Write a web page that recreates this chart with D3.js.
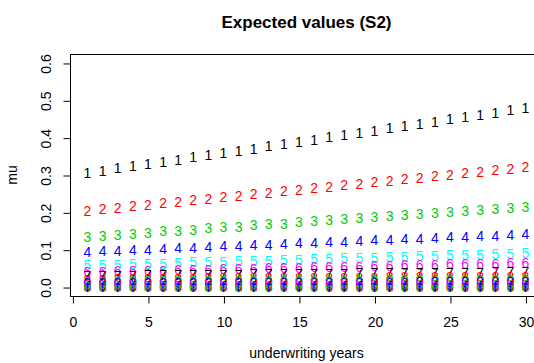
<!DOCTYPE html>
<html>
<head>
<meta charset="utf-8">
<script src="https://cdn.jsdelivr.net/npm/d3@7"></script>
<style>
  body { margin: 0; background: #fff; }
  svg { display: block; font-family: "Liberation Sans", Arial, sans-serif; }
</style>
</head>
<body>
<div id="chart"></div>
<script>
var years = [1, 2, 3, 4, 5, 6, 7, 8, 9, 10, 11, 12, 13, 14, 15, 16, 17, 18, 19, 20,
  21, 22, 23, 24, 25, 26, 27, 28, 29, 30];

var xTicks = [0, 5, 10, 15, 20, 25, 30];
var yTicks = [0.0, 0.1, 0.2, 0.3, 0.4, 0.5, 0.6];

// plotting characters and colours, R matplot defaults
var pchs = ["1", "2", "3", "4", "5", "6", "7", "8", "9", "0", "a", "b", "c", "d", "e", "f"];
var palette = ["#000000", "#FF0000", "#00CD00", "#0000FF", "#00FFFF", "#FF00FF"];

var mu1 = [0.306, 0.312, 0.318, 0.323, 0.329, 0.335, 0.341, 0.347, 0.353, 0.359, 0.365, 0.371, 0.377, 0.383, 0.389,
  0.395, 0.401, 0.407, 0.413, 0.419, 0.425, 0.431, 0.437, 0.443, 0.449, 0.455, 0.461, 0.467, 0.473, 0.479];
var mu2 = [0.205, 0.209, 0.213, 0.217, 0.221, 0.225, 0.229, 0.233, 0.237, 0.241, 0.245, 0.249, 0.253, 0.257, 0.261,
  0.265, 0.269, 0.273, 0.277, 0.281, 0.285, 0.289, 0.293, 0.297, 0.301, 0.305, 0.309, 0.313, 0.317, 0.321];
var mu3 = [0.135, 0.138, 0.140, 0.143, 0.146, 0.149, 0.151, 0.154, 0.157, 0.160, 0.162, 0.165, 0.168, 0.170, 0.173,
  0.176, 0.179, 0.181, 0.184, 0.187, 0.190, 0.192, 0.195, 0.198, 0.200, 0.203, 0.206, 0.209, 0.211, 0.214];
var mu4 = [0.094, 0.096, 0.097, 0.099, 0.100, 0.102, 0.104, 0.105, 0.107, 0.109, 0.110, 0.112, 0.113, 0.115, 0.117,
  0.118, 0.120, 0.122, 0.123, 0.125, 0.126, 0.128, 0.130, 0.131, 0.133, 0.135, 0.136, 0.138, 0.139, 0.141];
var mu5 = [0.058, 0.059, 0.060, 0.061, 0.062, 0.063, 0.065, 0.066, 0.067, 0.068, 0.069, 0.070, 0.071, 0.072, 0.073,
  0.075, 0.076, 0.077, 0.078, 0.079, 0.080, 0.081, 0.082, 0.083, 0.085, 0.086, 0.087, 0.088, 0.089, 0.090];
var mu6 = [0.040, 0.041, 0.042, 0.043, 0.043, 0.044, 0.045, 0.046, 0.047, 0.048, 0.049, 0.049, 0.050, 0.051, 0.052,
  0.053, 0.054, 0.055, 0.055, 0.056, 0.057, 0.058, 0.059, 0.060, 0.061, 0.062, 0.062, 0.063, 0.064, 0.065];
var mu7 = [0.029, 0.029, 0.030, 0.030, 0.031, 0.031, 0.031, 0.032, 0.032, 0.033, 0.033, 0.034, 0.034, 0.035, 0.035,
  0.035, 0.036, 0.036, 0.037, 0.037, 0.037, 0.038, 0.038, 0.038, 0.039, 0.039, 0.039, 0.040, 0.040, 0.040];
var mu8 = [0.020, 0.020, 0.021, 0.021, 0.021, 0.022, 0.022, 0.022, 0.023, 0.023, 0.023, 0.023, 0.024, 0.024, 0.024,
  0.024, 0.025, 0.025, 0.025, 0.025, 0.026, 0.026, 0.026, 0.026, 0.027, 0.027, 0.027, 0.027, 0.028, 0.028];
var mu9 = [0.014, 0.014, 0.014, 0.015, 0.015, 0.015, 0.015, 0.015, 0.016, 0.016, 0.016, 0.016, 0.016, 0.017, 0.017,
  0.017, 0.017, 0.017, 0.017, 0.018, 0.018, 0.018, 0.018, 0.018, 0.018, 0.019, 0.019, 0.019, 0.019, 0.019];
var mu10 = [0.010, 0.010, 0.010, 0.010, 0.010, 0.011, 0.011, 0.011, 0.011, 0.011, 0.011, 0.011, 0.011, 0.012, 0.012,
  0.012, 0.012, 0.012, 0.012, 0.012, 0.012, 0.012, 0.013, 0.013, 0.013, 0.013, 0.013, 0.013, 0.013, 0.013];
var mu11 = [0.006, 0.006, 0.006, 0.006, 0.006, 0.006, 0.006, 0.007, 0.007, 0.007, 0.007, 0.007, 0.007, 0.007, 0.007,
  0.007, 0.007, 0.007, 0.007, 0.008, 0.008, 0.008, 0.008, 0.008, 0.008, 0.008, 0.008, 0.008, 0.008, 0.008];
var mu12 = [0.004, 0.004, 0.004, 0.004, 0.004, 0.004, 0.004, 0.004, 0.004, 0.004, 0.004, 0.004, 0.005, 0.005, 0.005,
  0.005, 0.005, 0.005, 0.005, 0.005, 0.005, 0.005, 0.005, 0.005, 0.005, 0.005, 0.005, 0.005, 0.005, 0.005];
var mu13 = [0.003, 0.003, 0.003, 0.003, 0.003, 0.003, 0.003, 0.003, 0.003, 0.003, 0.003, 0.003, 0.003, 0.003, 0.003,
  0.003, 0.003, 0.003, 0.003, 0.003, 0.003, 0.003, 0.003, 0.003, 0.003, 0.003, 0.003, 0.003, 0.003, 0.003];
var mu14 = [0.002, 0.002, 0.002, 0.002, 0.002, 0.002, 0.002, 0.002, 0.002, 0.002, 0.002, 0.002, 0.002, 0.002, 0.002,
  0.002, 0.002, 0.002, 0.002, 0.002, 0.002, 0.002, 0.002, 0.002, 0.002, 0.002, 0.002, 0.002, 0.002, 0.002];
var mu15 = [0.001, 0.001, 0.001, 0.001, 0.001, 0.001, 0.001, 0.001, 0.001, 0.001, 0.001, 0.001, 0.001, 0.001, 0.001,
  0.001, 0.001, 0.001, 0.001, 0.001, 0.001, 0.001, 0.001, 0.001, 0.001, 0.001, 0.001, 0.001, 0.001, 0.001];
var mu16 = [0.0005, 0.0005, 0.0005, 0.0005, 0.0005, 0.0005, 0.0005, 0.0005, 0.0005, 0.0005, 0.0005, 0.0005, 0.0005, 0.0005, 0.0005,
  0.0005, 0.0005, 0.0005, 0.0005, 0.0005, 0.0005, 0.0005, 0.0005, 0.0005, 0.0005, 0.0005, 0.0005, 0.0005, 0.0005, 0.0005];

var series = [mu1, mu2, mu3, mu4, mu5, mu6, mu7, mu8, mu9, mu10, mu11, mu12, mu13, mu14, mu15, mu16];

var width = 534, height = 363;
// plot region (R's default 4% axis padding is added to the domains)
var plotLeft = 70, plotRight = 543, plotTop = 54, plotBottom = 296;

var x = d3.scaleLinear()
  .domain([1 - 0.04 * 29, 30 + 0.04 * 29])
  .range([plotLeft, plotRight]);

var y = d3.scaleLinear()
  .domain([0 - 0.04 * 0.6, 0.6 + 0.04 * 0.6])
  .range([plotBottom, plotTop]);

var svg = d3.select("#chart")
  .append("svg")
  .attr("width", width)
  .attr("height", height);

// points, drawn as plotting characters
series.forEach(function (vals, i) {
  svg.append("g")
    .selectAll("text")
    .data(vals)
    .enter()
    .append("text")
    .attr("x", function (d, j) { return x(years[j]); })
    .attr("y", function (d) { return y(d); })
    .attr("dy", "0.36em")
    .attr("text-anchor", "middle")
    .style("font-size", "14px")
    .attr("fill", palette[i % palette.length])
    .text(pchs[i]);
});

// box
svg.append("rect")
  .attr("x", plotLeft + 0.5)
  .attr("y", plotTop + 0.5)
  .attr("width", plotRight - plotLeft)
  .attr("height", plotBottom - plotTop)
  .attr("fill", "none")
  .attr("stroke", "#000");

// x axis
var xAxis = svg.append("g")
  .attr("transform", "translate(0.5," + (plotBottom + 0.5) + ")")
  .call(d3.axisBottom(x).tickValues(xTicks).tickSize(7).tickPadding(14).tickFormat(d3.format("d")));
xAxis.select(".domain").remove();
xAxis.selectAll("text")
  .style("font-size", "14px")
  .style("font-family", "Liberation Sans, Arial, sans-serif")
  .attr("fill", "#000");

// y axis with labels parallel to the axis
var yAxis = svg.append("g")
  .attr("transform", "translate(" + (plotLeft + 0.5) + ",0.5)")
  .call(d3.axisLeft(y).tickValues(yTicks).tickSize(7).tickFormat(d3.format(".1f")));
yAxis.select(".domain").remove();
yAxis.selectAll(".tick text")
  .attr("x", 0)
  .attr("y", 0)
  .attr("dy", null)
  .attr("text-anchor", "middle")
  .attr("transform", "translate(-20,0)rotate(-90)")
  .style("font-size", "14px")
  .style("font-family", "Liberation Sans, Arial, sans-serif")
  .attr("fill", "#000");

// title and axis titles
svg.append("text")
  .attr("x", (plotLeft + plotRight) / 2)
  .attr("y", 28)
  .attr("text-anchor", "middle")
  .style("font-size", "17px")
  .style("font-weight", "bold")
  .text("Expected values (S2)");

svg.append("text")
  .attr("x", (plotLeft + plotRight) / 2)
  .attr("y", 358)
  .attr("text-anchor", "middle")
  .style("font-size", "14px")
  .text("underwriting years");

svg.append("text")
  .attr("transform", "translate(17," + (plotTop + plotBottom) / 2 + ")rotate(-90)")
  .attr("text-anchor", "middle")
  .style("font-size", "14px")
  .text("mu");
</script>
</body>
</html>
